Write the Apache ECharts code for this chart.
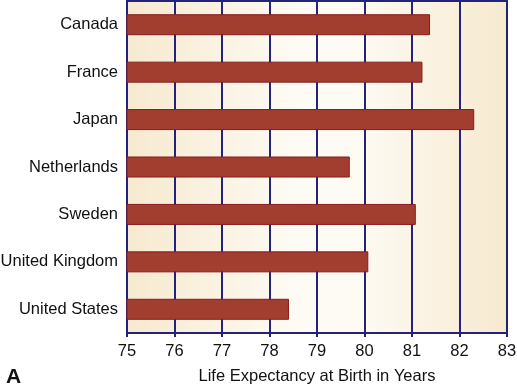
<!DOCTYPE html>
<html><head><meta charset="utf-8">
<script src="https://cdn.jsdelivr.net/npm/echarts@6/dist/echarts.min.js"></script>
<style>html,body{margin:0;padding:0;background:#fff}#c{width:517px;height:386px}</style>
</head><body><div id="c"></div>
<script>
const countries = ['Canada','France','Japan','Netherlands','Sweden','United Kingdom','United States'];
const lifeExpectancy = [81.38, 81.22, 82.31, 79.69, 81.08, 80.08, 78.41];
const xMin = 75, xMax = 83, xStep = 1;
const xTitle = 'Life Expectancy at Birth in Years';
const panelLabel = 'A';

const navy = '#23237a';
const font = 'Liberation Sans, Arial, sans-serif';
const chart = echarts.init(document.getElementById('c'), null, {renderer:'canvas'});
chart.setOption({
  animation: false,
  grid: {
    left: 127, right: 10, top: 1, bottom: 53,
    containLabel: false, outerBoundsMode: 'none',
    show: true, borderColor: navy, borderWidth: 2,
    backgroundColor: new echarts.graphic.LinearGradient(0,0,1,0,[
      {offset:0, color:'#f6e9cf'},
      {offset:0.45, color:'#fefbf4'},
      {offset:0.6, color:'#fefbf4'},
      {offset:1, color:'#f6e9cf'}
    ])
  },
  title: {
    text: panelLabel, left: 1, top: 362,
    textStyle: {fontFamily: font, fontSize: 21, fontWeight: 'bold', color:'#111'}
  },
  xAxis: {
    type: 'value', min: xMin, max: xMax, interval: xStep,
    name: xTitle, nameLocation: 'middle', nameGap: 35,
    nameTextStyle: {fontFamily: font, fontSize: 16.5, color:'#111'},
    axisLine: {show: true, lineStyle: {color: navy, width: 2}},
    axisTick: {show: true, length: 4, lineStyle: {color: navy, width: 2}},
    axisLabel: {fontFamily: font, fontSize: 16.5, color:'#111', margin: 10},
    splitLine: {show: true, lineStyle: {color: navy, width: 2}}
  },
  yAxis: {
    type: 'category', data: countries, inverse: true,
    axisLine: {show: true, lineStyle: {color: navy, width: 2}},
    axisTick: {show: false},
    axisLabel: {fontFamily: font, fontSize: 16.5, color:'#111', margin: 9}
  },
  series: [{
    type: 'bar', data: lifeExpectancy, barWidth: 21,
    itemStyle: {color: '#a23e2f', borderColor: '#861c1c', borderWidth: 1}
  }]
});
</script></body></html>
